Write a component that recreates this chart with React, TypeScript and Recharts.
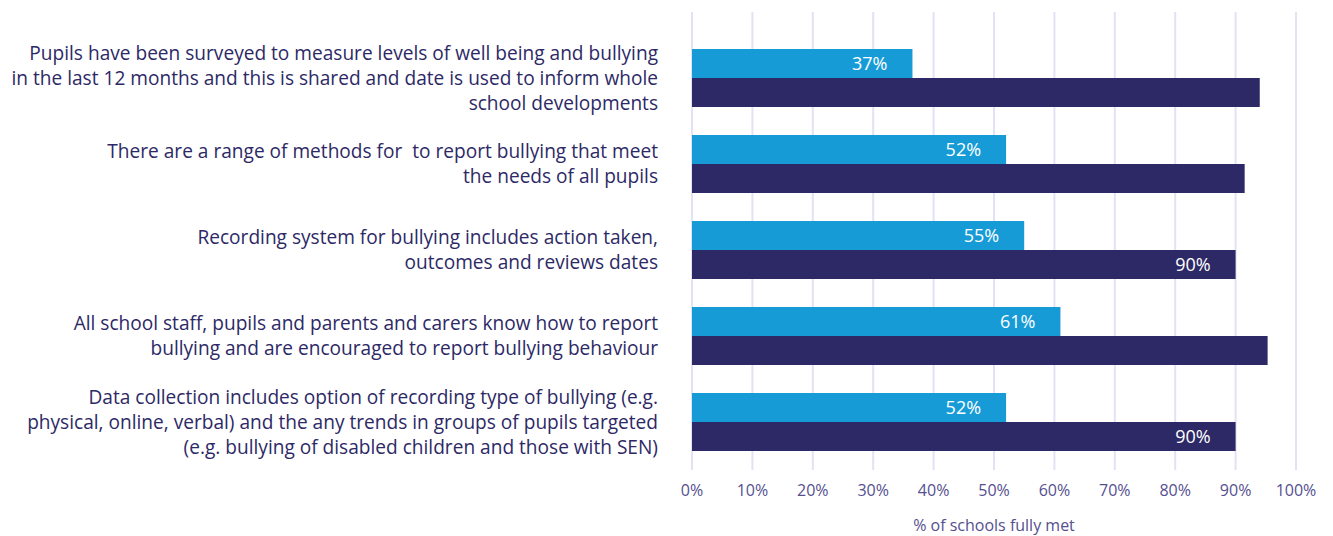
import { BarChart, Bar, XAxis, YAxis, CartesianGrid, LabelList } from "recharts";

// statements (y categories), top to bottom
const categories = [
  "Pupils have been surveyed to measure levels of well being and bullying\nin the last 12 months and this is shared and date is used to inform whole\nschool developments",
  "There are a range of methods for  to report bullying that meet\nthe needs of all pupils",
  "Recording system for bullying includes action taken,\noutcomes and reviews dates",
  "All school staff, pupils and parents and carers know how to report\nbullying and are encouraged to report bullying behaviour",
  "Data collection includes option of recording type of bullying (e.g.\nphysical, online, verbal) and the any trends in groups of pupils targeted\n(e.g. bullying of disabled children and those with SEN)",
];

// light blue series
const firstValues = [36.5, 52, 55, 61, 52];
// dark series
const secondValues = [94, 91.5, 90, 95.3, 90];
// only some dark bars carry a label in the original
const secondLabelShown = [false, false, true, false, true];

const xTicks = [0, 10, 20, 30, 40, 50, 60, 70, 80, 90, 100];

const data = categories.map((name, i) => ({
  name,
  first: firstValues[i],
  second: secondValues[i],
  firstLabel: `${Math.round(firstValues[i])}%`,
  secondLabel: secondLabelShown[i] ? `${Math.round(secondValues[i])}%` : "",
}));

const FONT = "'Open Sans', Lato, sans-serif";
const NAVY = "#2d2966";
const AXIS = "#554f8f";

function CategoryTick(props: any) {
  const { x, y, payload } = props;
  const lines: string[] = String(payload.value).split("\n");
  const lh = 25;
  const start = -((lines.length - 1) * lh) / 2;
  return (
    <text
      x={x}
      y={y}
      textAnchor="end"
      fill={NAVY}
      fontSize={19.1}
      fontFamily={FONT}
      style={{ whiteSpace: "pre" }}
    >
      {lines.map((l, i) => (
        <tspan key={i} x={x} y={y + start + i * lh} dy="0.35em">
          {l}
        </tspan>
      ))}
    </text>
  );
}

export default function App() {
  return (
    <div style={{ position: "absolute", left: 0, top: 0, background: "#fff" }}>
      <BarChart
        width={1333}
        height={536}
        data={data}
        layout="vertical"
        margin={{ top: 12, right: 37, left: 0, bottom: 0 }}
        barGap={0}
        barCategoryGap={14}
      >
        <CartesianGrid horizontal={false} stroke="#e4e1f4" strokeWidth={2} />
        <XAxis
          type="number"
          domain={[0, 100]}
          ticks={xTicks}
          tickFormatter={(v) => `${v}%`}
          axisLine={false}
          tickLine={false}
          tickSize={0}
          tickMargin={15}
          height={66}
          tick={{ fill: AXIS, fontSize: 16, fontFamily: FONT }}
          label={{
            value: "% of schools fully met",
            position: "insideBottom",
            offset: 5,
            fill: AXIS,
            fontSize: 16,
            fontFamily: FONT,
          }}
        />
        <YAxis
          type="category"
          dataKey="name"
          width={692}
          axisLine={false}
          tickLine={false}
          tickSize={0}
          tickMargin={34}
          padding={{ top: 23, bottom: 5 }}
          interval={0}
          tick={<CategoryTick />}
        />
        <Bar dataKey="first" fill="#179bd7" isAnimationActive={false}>
          <LabelList
            dataKey="firstLabel"
            position="insideRight"
            offset={25}
            fill="#fff"
            fontSize={18}
            fontFamily={FONT}
          />
        </Bar>
        <Bar dataKey="second" fill={NAVY} isAnimationActive={false}>
          <LabelList
            dataKey="secondLabel"
            position="insideRight"
            offset={25}
            fill="#fff"
            fontSize={18}
            fontFamily={FONT}
          />
        </Bar>
      </BarChart>
    </div>
  );
}
